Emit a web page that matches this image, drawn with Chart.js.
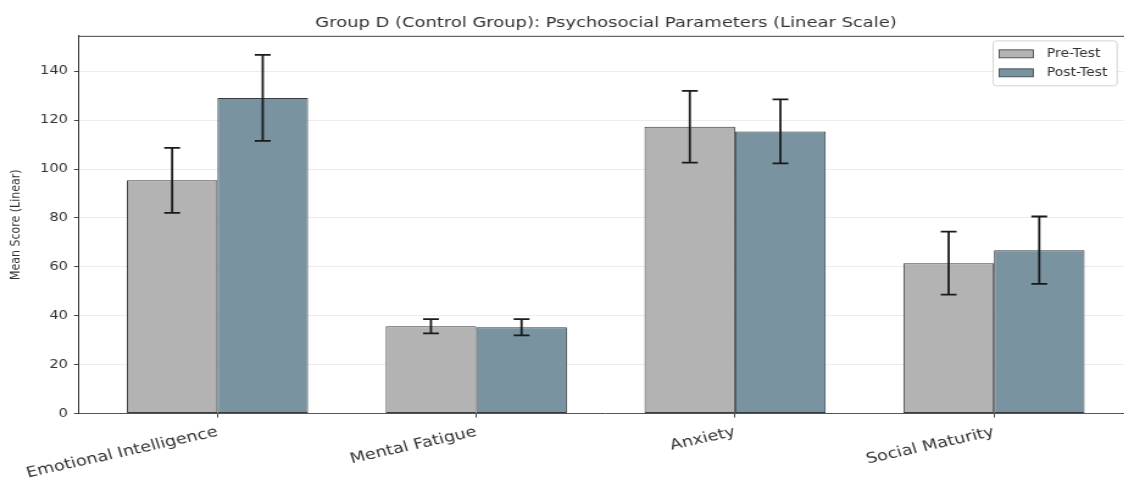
<!DOCTYPE html>
<html>
<head>
<meta charset="utf-8">
<script src="https://cdn.jsdelivr.net/npm/chart.js@4.4.0/dist/chart.umd.min.js"></script>
<style>
  html, body { margin: 0; padding: 0; background: #ffffff; overflow: hidden; width: 1124px; height: 479px; }
  #wrap { position: absolute; left: 0; top: 0; width: 994px; height: 479px; transform: scaleX(1.2193); transform-origin: 0 0; }
  canvas { display: block; }
</style>
</head>
<body>
<div id="wrap"><canvas id="chart" width="994" height="479"></canvas></div>
<script>
// Psychosocial parameters, Group D (control): means and standard deviations
const categories = ['Emotional Intelligence', 'Mental Fatigue', 'Anxiety', 'Social Maturity'];
const categoryPositions = [0, 1, 2, 3];
const preTestMeans = [95.4, 35.7, 117.3, 61.5];
const preTestSD = [13.3, 2.9, 14.7, 12.9];
const postTestMeans = [129.1, 35.3, 115.4, 66.8];
const postTestSD = [17.6, 3.3, 13.1, 13.8];
const yTickValues = [0, 20, 40, 60, 80, 100, 120, 140];

const toPoints = (means) => means.map((v, i) => ({ x: categoryPositions[i], y: v }));

Chart.defaults.font.family = "'DejaVu Sans', sans-serif";
Chart.defaults.color = '#333333';

// Error bars (mean ± SD) on top of every bar
const errorBars = {
  id: 'errorBars',
  afterDatasetsDraw(chart) {
    const ctx = chart.ctx;
    const yScale = chart.scales.y;
    ctx.save();
    ctx.strokeStyle = '#1a1a1a';
    ctx.lineWidth = 1.8;
    chart.data.datasets.forEach((ds, di) => {
      const meta = chart.getDatasetMeta(di);
      meta.data.forEach((bar, i) => {
        const mean = ds.data[i].y;
        const sd = ds.sd[i];
        const top = yScale.getPixelForValue(mean + sd);
        const bottom = yScale.getPixelForValue(mean - sd);
        const half = 6.5;
        ctx.beginPath();
        ctx.moveTo(bar.x, top);
        ctx.lineTo(bar.x, bottom);
        ctx.moveTo(bar.x - half, top);
        ctx.lineTo(bar.x + half, top);
        ctx.moveTo(bar.x - half, bottom);
        ctx.lineTo(bar.x + half, bottom);
        ctx.stroke();
      });
    });
    ctx.restore();
  }
};

// Top spine of the plotting frame
const frame = {
  id: 'frame',
  afterDraw(chart) {
    const { ctx, chartArea } = chart;
    ctx.save();
    ctx.strokeStyle = '#444444';
    ctx.lineWidth = 1;
    ctx.beginPath();
    ctx.moveTo(chartArea.left, chartArea.top + 0.5);
    ctx.lineTo(chartArea.right, chartArea.top + 0.5);
    ctx.stroke();
    ctx.restore();
  }
};

// Legend box inside the upper-right corner of the plot
const insideLegend = {
  id: 'insideLegend',
  afterDraw(chart) {
    const { ctx, chartArea } = chart;
    const ds = chart.data.datasets;
    ctx.save();
    ctx.font = "11.5px 'DejaVu Sans', sans-serif";
    const textW = Math.max(...ds.map(d => ctx.measureText(d.label).width));
    const pad = 5, patchW = 28, patchH = 8, gap = 11, rowH = 19, firstRow = 13;
    const boxW = pad + patchW + gap + textW + pad + 3;
    const boxH = firstRow * 2 + rowH * (ds.length - 1);
    const x0 = chartArea.right - 12.5 - boxW;
    const y0 = chartArea.top + 5;
    ctx.fillStyle = 'rgba(255,255,255,0.85)';
    ctx.strokeStyle = '#d4d4d4';
    ctx.lineWidth = 1;
    ctx.beginPath();
    ctx.roundRect(x0, y0, boxW, boxH, 3);
    ctx.fill();
    ctx.stroke();
    ds.forEach((d, i) => {
      const cy = y0 + firstRow + i * rowH;
      ctx.fillStyle = d.backgroundColor;
      ctx.fillRect(x0 + pad, cy - patchH / 2, patchW, patchH);
      ctx.strokeStyle = d.borderColor;
      ctx.lineWidth = 0.8;
      ctx.strokeRect(x0 + pad, cy - patchH / 2, patchW, patchH);
      ctx.fillStyle = '#333333';
      ctx.textBaseline = 'middle';
      ctx.textAlign = 'left';
      ctx.fillText(d.label, x0 + pad + patchW + gap, cy);
    });
    ctx.restore();
  }
};

new Chart(document.getElementById('chart'), {
  type: 'bar',
  data: {
    datasets: [
      {
        label: 'Pre-Test',
        data: toPoints(preTestMeans),
        sd: preTestSD,
        backgroundColor: '#b3b3b3',
        borderColor: '#3a3a3a',
        borderWidth: 1,
        borderSkipped: false
      },
      {
        label: 'Post-Test',
        data: toPoints(postTestMeans),
        sd: postTestSD,
        backgroundColor: '#7a93a1',
        borderColor: '#343d42',
        borderWidth: 1,
        borderSkipped: false
      }
    ]
  },
  options: {
    responsive: false,
    animation: false,
    categoryPercentage: 0.7,
    barPercentage: 1.0,
    layout: { padding: 0 },
    plugins: {
      legend: { display: false },
      tooltip: { enabled: false },
      title: {
        display: true,
        text: 'Group D (Control Group): Psychosocial Parameters (Linear Scale)',
        color: '#333333',
        font: { size: 14.7, weight: 'normal', lineHeight: 1.2 },
        padding: { top: 14, bottom: 4.2 }
      }
    },
    scales: {
      x: {
        type: 'linear',
        offset: false,
        min: -0.535,
        max: 3.535,
        afterBuildTicks(scale) {
          scale.ticks = categoryPositions.map(v => ({ value: v }));
        },
        afterFit(scale) { scale.height = 65.5; },
        ticks: {
          autoSkip: false,
          minRotation: 15,
          maxRotation: 15,
          padding: 6,
          color: '#333333',
          font: { size: 14.5 },
          callback: (value) => categories[value]
        },
        grid: {
          display: true,
          drawOnChartArea: false,
          offset: false,
          tickLength: 4,
          tickColor: '#444444'
        },
        border: { display: true, color: '#555555', width: 1 }
      },
      y: {
        min: 0,
        max: 154.5,
        afterBuildTicks(scale) {
          scale.ticks = yTickValues.map(v => ({ value: v }));
        },
        afterFit(scale) { scale.width = 64.75; },
        ticks: {
          padding: 5,
          color: '#333333',
          font: { size: 12 }
        },
        grid: {
          color: '#ececec',
          lineWidth: 1,
          tickLength: 4,
          tickColor: '#444444'
        },
        border: { display: true, color: '#333333', width: 1 },
        title: {
          display: true,
          text: 'Mean Score (Linear)',
          color: '#333333',
          font: { size: 11 },
          padding: { top: 7, bottom: 0 }
        }
      },
      // empty right-hand margin box that mirrors the left axis width
      yMargin: {
        type: 'linear',
        position: 'right',
        display: true,
        afterFit(scale) { scale.width = 65.25; },
        ticks: { display: false },
        grid: { display: false, drawOnChartArea: false },
        border: { display: false }
      }
    }
  },
  plugins: [errorBars, frame, insideLegend]
});
</script>
</body>
</html>
